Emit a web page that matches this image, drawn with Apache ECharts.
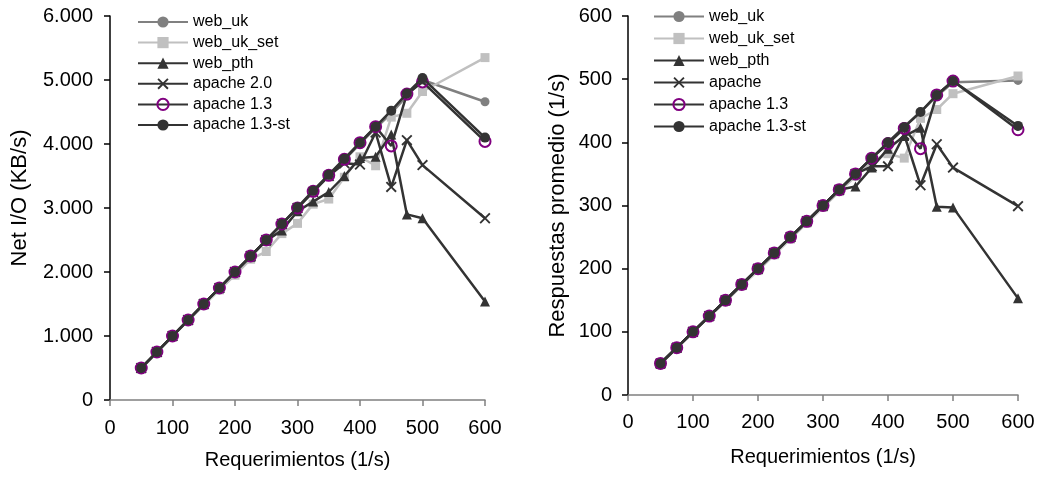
<!DOCTYPE html>
<html>
<head>
<meta charset="utf-8">
<script src="https://cdn.jsdelivr.net/npm/echarts@6/dist/echarts.min.js"></script>
<style>html,body{margin:0;padding:0;background:#fff;}#c{width:1046px;height:483px;}</style>
</head>
<body>
<div id="c"></div>
<script>
const xs = [50,75,100,125,150,175,200,225,250,275,300,325,350,375,400,425,450,475,500,600];

const leftNames = ['web_uk','web_uk_set','web_pth','apache 2.0','apache 1.3','apache 1.3-st'];
const rightNames = ['web_uk','web_uk_set','web_pth','apache','apache 1.3','apache 1.3-st'];

const netWebUk     = [500,750,1000,1250,1500,1750,2000,2250,2500,2750,3000,3250,3500,3750,4000,4250,4480,4750,5000,4660];
const netWebUkSet  = [490,740,990,1240,1480,1720,1950,2200,2320,2600,2760,3060,3140,3480,3800,3660,4420,4480,4820,5350];
const netWebPth    = [500,750,1000,1250,1500,1750,2000,2240,2490,2650,2950,3100,3250,3500,3780,3800,4150,2900,2840,1540];
const netApache20  = [500,750,1000,1250,1500,1750,2000,2250,2500,2750,3000,3250,3500,3700,3680,4180,3330,4060,3670,2840];
const netApache13  = [500,750,1000,1250,1500,1750,2000,2250,2500,2750,3000,3260,3510,3760,4020,4270,3970,4780,4970,4040];
const netApache13st= [500,750,1000,1250,1500,1750,2000,2250,2500,2750,3010,3270,3520,3770,4020,4270,4520,4790,5030,4100];

const resWebUk     = [50,75,100,125,150,175,200,225,250,275,300,325,350,375,400,425,448,473,495,498];
const resWebUkSet  = [49,74,99,124,148,173,197,222,247,272,297,322,346,370,382,375,438,452,477,505];
const resWebPth    = [50,75,100,125,150,175,200,225,250,275,300,325,330,360,390,410,423,298,297,153];
const resApache    = [50,75,100,125,150,175,200,225,250,275,300,325,350,362,362,412,332,397,360,299];
const resApache13  = [50,75,100,125,150,175,200,225,250,275,300,325,350,375,398,422,390,475,497,420];
const resApache13st= [50,75,100,125,150,175,200,225,250,275,300,325,350,375,400,424,448,475,497,426];

const xTicks = [0,100,200,300,400,500,600];
const yTicksLeft = ['0','1.000','2.000','3.000','4.000','5.000','6.000'];
const yTicksRight = ['0','100','200','300','400','500','600'];

const FONT = '"Liberation Sans", Arial, sans-serif';
const X_PATH = 'path://M0,1.2 L1.2,0 L5,3.8 L8.8,0 L10,1.2 L6.2,5 L10,8.8 L8.8,10 L5,6.2 L1.2,10 L0,8.8 L3.8,5 Z';

const styles = [
  {line:'#808080', symbol:'circle', size:9, item:{color:'#808080'}},
  {line:'#c0c0c0', symbol:'rect', size:9, item:{color:'#c0c0c0'}},
  {line:'#333333', symbol:'triangle', size:10, item:{color:'#333333'}},
  {line:'#333333', symbol:X_PATH, size:11, item:{color:'#333333'}},
  {line:'#333333', symbol:'circle', size:11, item:{color:'rgba(0,0,0,0)', borderColor:'#800080', borderWidth:2}},
  {line:'#333333', symbol:'circle', size:10, item:{color:'#333333'}}
];

function pairs(vals){ return xs.map((x,i)=>[x, vals[i]]); }

const leftData = [netWebUk, netWebUkSet, netWebPth, netApache20, netApache13, netApache13st];
const rightData = [resWebUk, resWebUkSet, resWebPth, resApache, resApache13, resApache13st];

const series = [];
leftData.forEach((d,i)=>{
  const s = styles[i];
  series.push({type:'line', name:leftNames[i], xAxisIndex:0, yAxisIndex:0, data:pairs(d),
    symbol:s.symbol, symbolSize:s.size, showAllSymbol:true,
    lineStyle:{color:s.line, width:2.5}, itemStyle:Object.assign({}, s.item), animation:false, z: 2+i});
});
rightData.forEach((d,i)=>{
  const s = styles[i];
  series.push({type:'line', name:rightNames[i], xAxisIndex:1, yAxisIndex:1, data:pairs(d),
    symbol:s.symbol, symbolSize:s.size, showAllSymbol:true,
    lineStyle:{color:s.line, width:2.5}, itemStyle:Object.assign({}, s.item), animation:false, z: 2+i});
});

function xAxis(gi, gap, margin){
  return {type:'value', gridIndex:gi, min:0, max:600, interval:100,
    name:'Requerimientos (1/s)', nameLocation:'middle', nameGap:gap, nameMoveOverlap:false,
    nameTextStyle:{fontFamily:FONT, fontSize:20, color:'#000'},
    axisLine:{show:true, onZero:false, lineStyle:{color:'#808080', width:1.5}},
    axisTick:{show:true, length:6, lineStyle:{color:'#808080', width:1.5}},
    axisLabel:{fontFamily:FONT, fontSize:20, color:'#000', margin:margin},
    splitLine:{show:false}};
}
function yAxis(gi, max, interval, labels, name, gap, margin, pad){
  return {type:'value', gridIndex:gi, min:0, max:max, interval:interval,
    name:name, nameLocation:'middle', nameGap:gap, nameMoveOverlap:false,
    nameTextStyle:{fontFamily:FONT, fontSize:22, color:'#000', padding:pad},
    axisLine:{show:true, onZero:false, lineStyle:{color:'#000', width:1.5}},
    axisTick:{show:true, length:6, lineStyle:{color:'#000', width:1.5}},
    axisLabel:{fontFamily:FONT, fontSize:20, color:'#000', margin:margin,
      formatter:(v)=>labels[Math.round(v/interval)]},
    splitLine:{show:false}};
}

const legendCommon = {orient:'vertical', itemWidth:50, itemHeight:14, padding:0,
  textStyle:{fontFamily:FONT, fontSize:16, color:'#000', lineHeight:16}, selectedMode:false};

const option = {
  backgroundColor:'#fff',
  animation:false,
  grid:[
    {left:110, right:561, top:16, bottom:83},
    {left:628, right:28, top:16, bottom:88}
  ],
  xAxis:[xAxis(0,50,18), xAxis(1,52,17)],
  yAxis:[
    yAxis(0, 6000, 1000, yTicksLeft, 'Net I/O (KB/s)', 79, 17, [0,0,0,20]),
    yAxis(1, 600, 100, yTicksRight, 'Respuestas promedio (1/s)', 59, 16, [0,0,0,0])
  ],
  legend:[
    Object.assign({}, legendCommon, {left:137, top:14, itemGap:4.6, data:leftNames}),
    Object.assign({}, legendCommon, {left:653, top:8.5, itemGap:6, data:rightNames})
  ],
  series:series
};

const chart = echarts.init(document.getElementById('c'), null, {renderer:'canvas'});
chart.setOption(option);
</script>
</body>
</html>
